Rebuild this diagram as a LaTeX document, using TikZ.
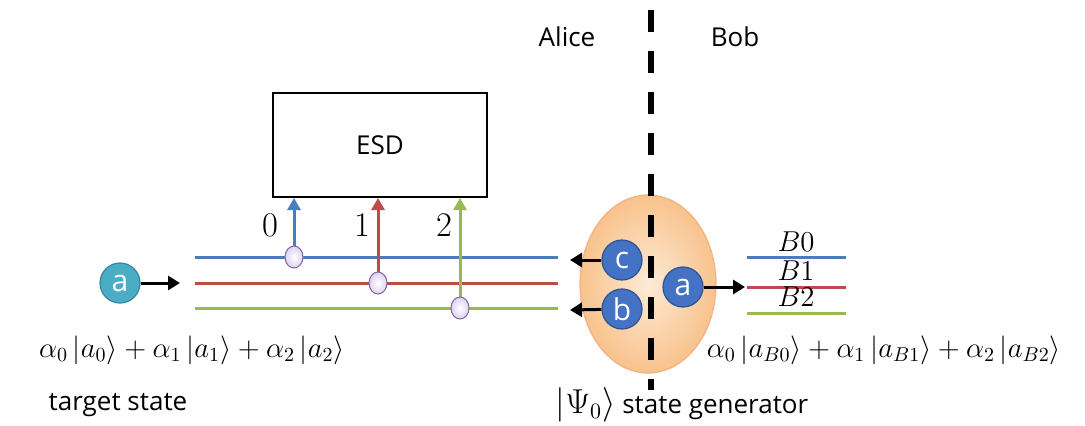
\documentclass[tikz,border=0pt]{standalone}
\usepackage{amsmath,amssymb}
\usepackage{fontspec}
\setsansfont{Open Sans}
\usepackage{tikz}
\usetikzlibrary{arrows.meta,positioning,shapes.geometric,calc}
\definecolor{qblue}{HTML}{4A7EBB}
\definecolor{qred}{HTML}{BE4B48}
\definecolor{qgreen}{HTML}{98B954}
\definecolor{teal}{HTML}{4BACC6}
\definecolor{darkteal}{HTML}{31859C}
\definecolor{qubitblue}{HTML}{4472C4}
\definecolor{qubitedge}{HTML}{2F528F}
\definecolor{lavender}{HTML}{DCD3F2}
\definecolor{tapedge}{HTML}{8064A2}
\definecolor{peach}{HTML}{F8C28C}
\definecolor{lightpeach}{HTML}{FDEBD6}
\definecolor{peachedge}{HTML}{F4B183}

\begin{document}
\begin{tikzpicture}[
  x=0.5pt,y=-0.5pt,
  label/.style={font=\sffamily\fontsize{13}{15}\selectfont},
  esdbox/.style={draw=black,line width=1pt,minimum width=107pt,minimum height=52pt,
                 font=\sffamily\fontsize{13}{15}\selectfont},
  qubit/.style={circle,draw=qubitedge,line width=0.6pt,fill=qubitblue,minimum size=20pt,
                inner sep=0pt,text=white,font=\sffamily\fontsize{15}{16}\selectfont},
  tap/.style={ellipse,draw=tapedge,line width=0.5pt,inner color=white,outer color=lavender,
              minimum width=9pt,minimum height=11pt,inner sep=0pt},
  genellipse/.style={ellipse,draw=peachedge,line width=0.6pt,inner color=lightpeach,
                     outer color=peach,minimum width=68pt,minimum height=89pt},
  wire/.style={line width=1.5pt},
  arrow/.style={-{Triangle[length=6pt,width=7pt]},line width=1.5pt,draw=black},
  uparrow/.style={-{Triangle[length=6pt,width=6.5pt]},line width=1.5pt},
  mathtext/.style={font=\fontsize{16}{18}\selectfont},
  statetext/.style={font=\fontsize{14.8}{17}\selectfont}
]
\useasboundingbox (0,0) rectangle (1085,425);

% generator and the Alice / Bob cut
\node[genellipse] (gen) at (648,284) {};
\coordinate (cuttop) at (651,10);
\coordinate (cutbot) at (651,390);
\draw[line width=3pt,dash pattern=on 11pt off 9.5pt] (cuttop) -- (cutbot);
\node[label] (alice) at (567,37) {Alice};
\node[label] (bob) at (735,37) {Bob};

% ESD box
\node[esdbox] (esd) at (380,145) {ESD};

% target state wires
\coordinate (c0) at (294,257);
\coordinate (c1) at (378,283);
\coordinate (c2) at (460,308);
\foreach \i/\y/\col in {0/257/qblue,1/283/qred,2/308/qgreen}{
  \coordinate (w\i) at (195,\y);
  \coordinate (e\i) at (558,\y);
  \draw[wire,draw=\col] (w\i) -- (e\i);
}
\draw[uparrow,draw=qblue,fill=qblue] (c0) -- (c0 |- esd.south);
\draw[uparrow,draw=qred,fill=qred] (c1) -- (c1 |- esd.south);
\draw[uparrow,draw=qgreen,fill=qgreen] (c2) -- (c2 |- esd.south);
\foreach \i in {0,1,2}
  \node[tap] (tap\i) at (c\i) {};
\node[mathtext] (n0) at (270,225) {$0$};
\node[mathtext] (n1) at (362,225) {$1$};
\node[mathtext] (n2) at (444,225) {$2$};

% incoming qubit
\node[qubit,fill=teal,draw=darkteal] (ta) at (120,283) {a};
\coordinate (tin) at (180,283);
\draw[arrow] (ta) -- (tin);

% generator qubits
\node[qubit] (qc) at (622,260) {c};
\node[qubit] (qb) at (622,309) {b};
\node[qubit] (qa) at (683,287) {a};
\coordinate (cout) at (570,260);
\coordinate (bout) at (570,310);
\coordinate (aout) at (745,287);
\draw[arrow] (qc) -- (cout);
\draw[arrow] (qb) -- (bout);
\draw[arrow] (qa) -- (aout);

% Bob's wires
\foreach \i/\y/\col in {0/257/qblue,1/287/qred,2/313/qgreen}{
  \coordinate (bw\i) at (747,\y);
  \coordinate (be\i) at (846,\y);
  \draw[wire,draw=\col] (bw\i) -- (be\i);
}
\node[mathtext,font=\fontsize{15}{17}\selectfont] (b0) at (796,242) {$B0$};
\node[mathtext,font=\fontsize{15}{17}\selectfont] (b1) at (796,271) {$B1$};
\node[mathtext,font=\fontsize{15}{17}\selectfont] (b2) at (796,297) {$B2$};

% states
\node[statetext] (target) at (192,350)
  {$\alpha_0\,|a_0\rangle+\alpha_1\,|a_1\rangle+\alpha_2\,|a_2\rangle$};
\node[statetext] (bobstate) at (884,350)
  {$\alpha_0\,|a_{B0}\rangle+\alpha_1\,|a_{B1}\rangle+\alpha_2\,|a_{B2}\rangle$};
\node[label] (targetlbl) at (118,405) {target state};
\node[label] (genlbl) at (682,405) {{\fontsize{16}{18}\selectfont$|\Psi_0\rangle$} state generator};
\end{tikzpicture}
\end{document}
